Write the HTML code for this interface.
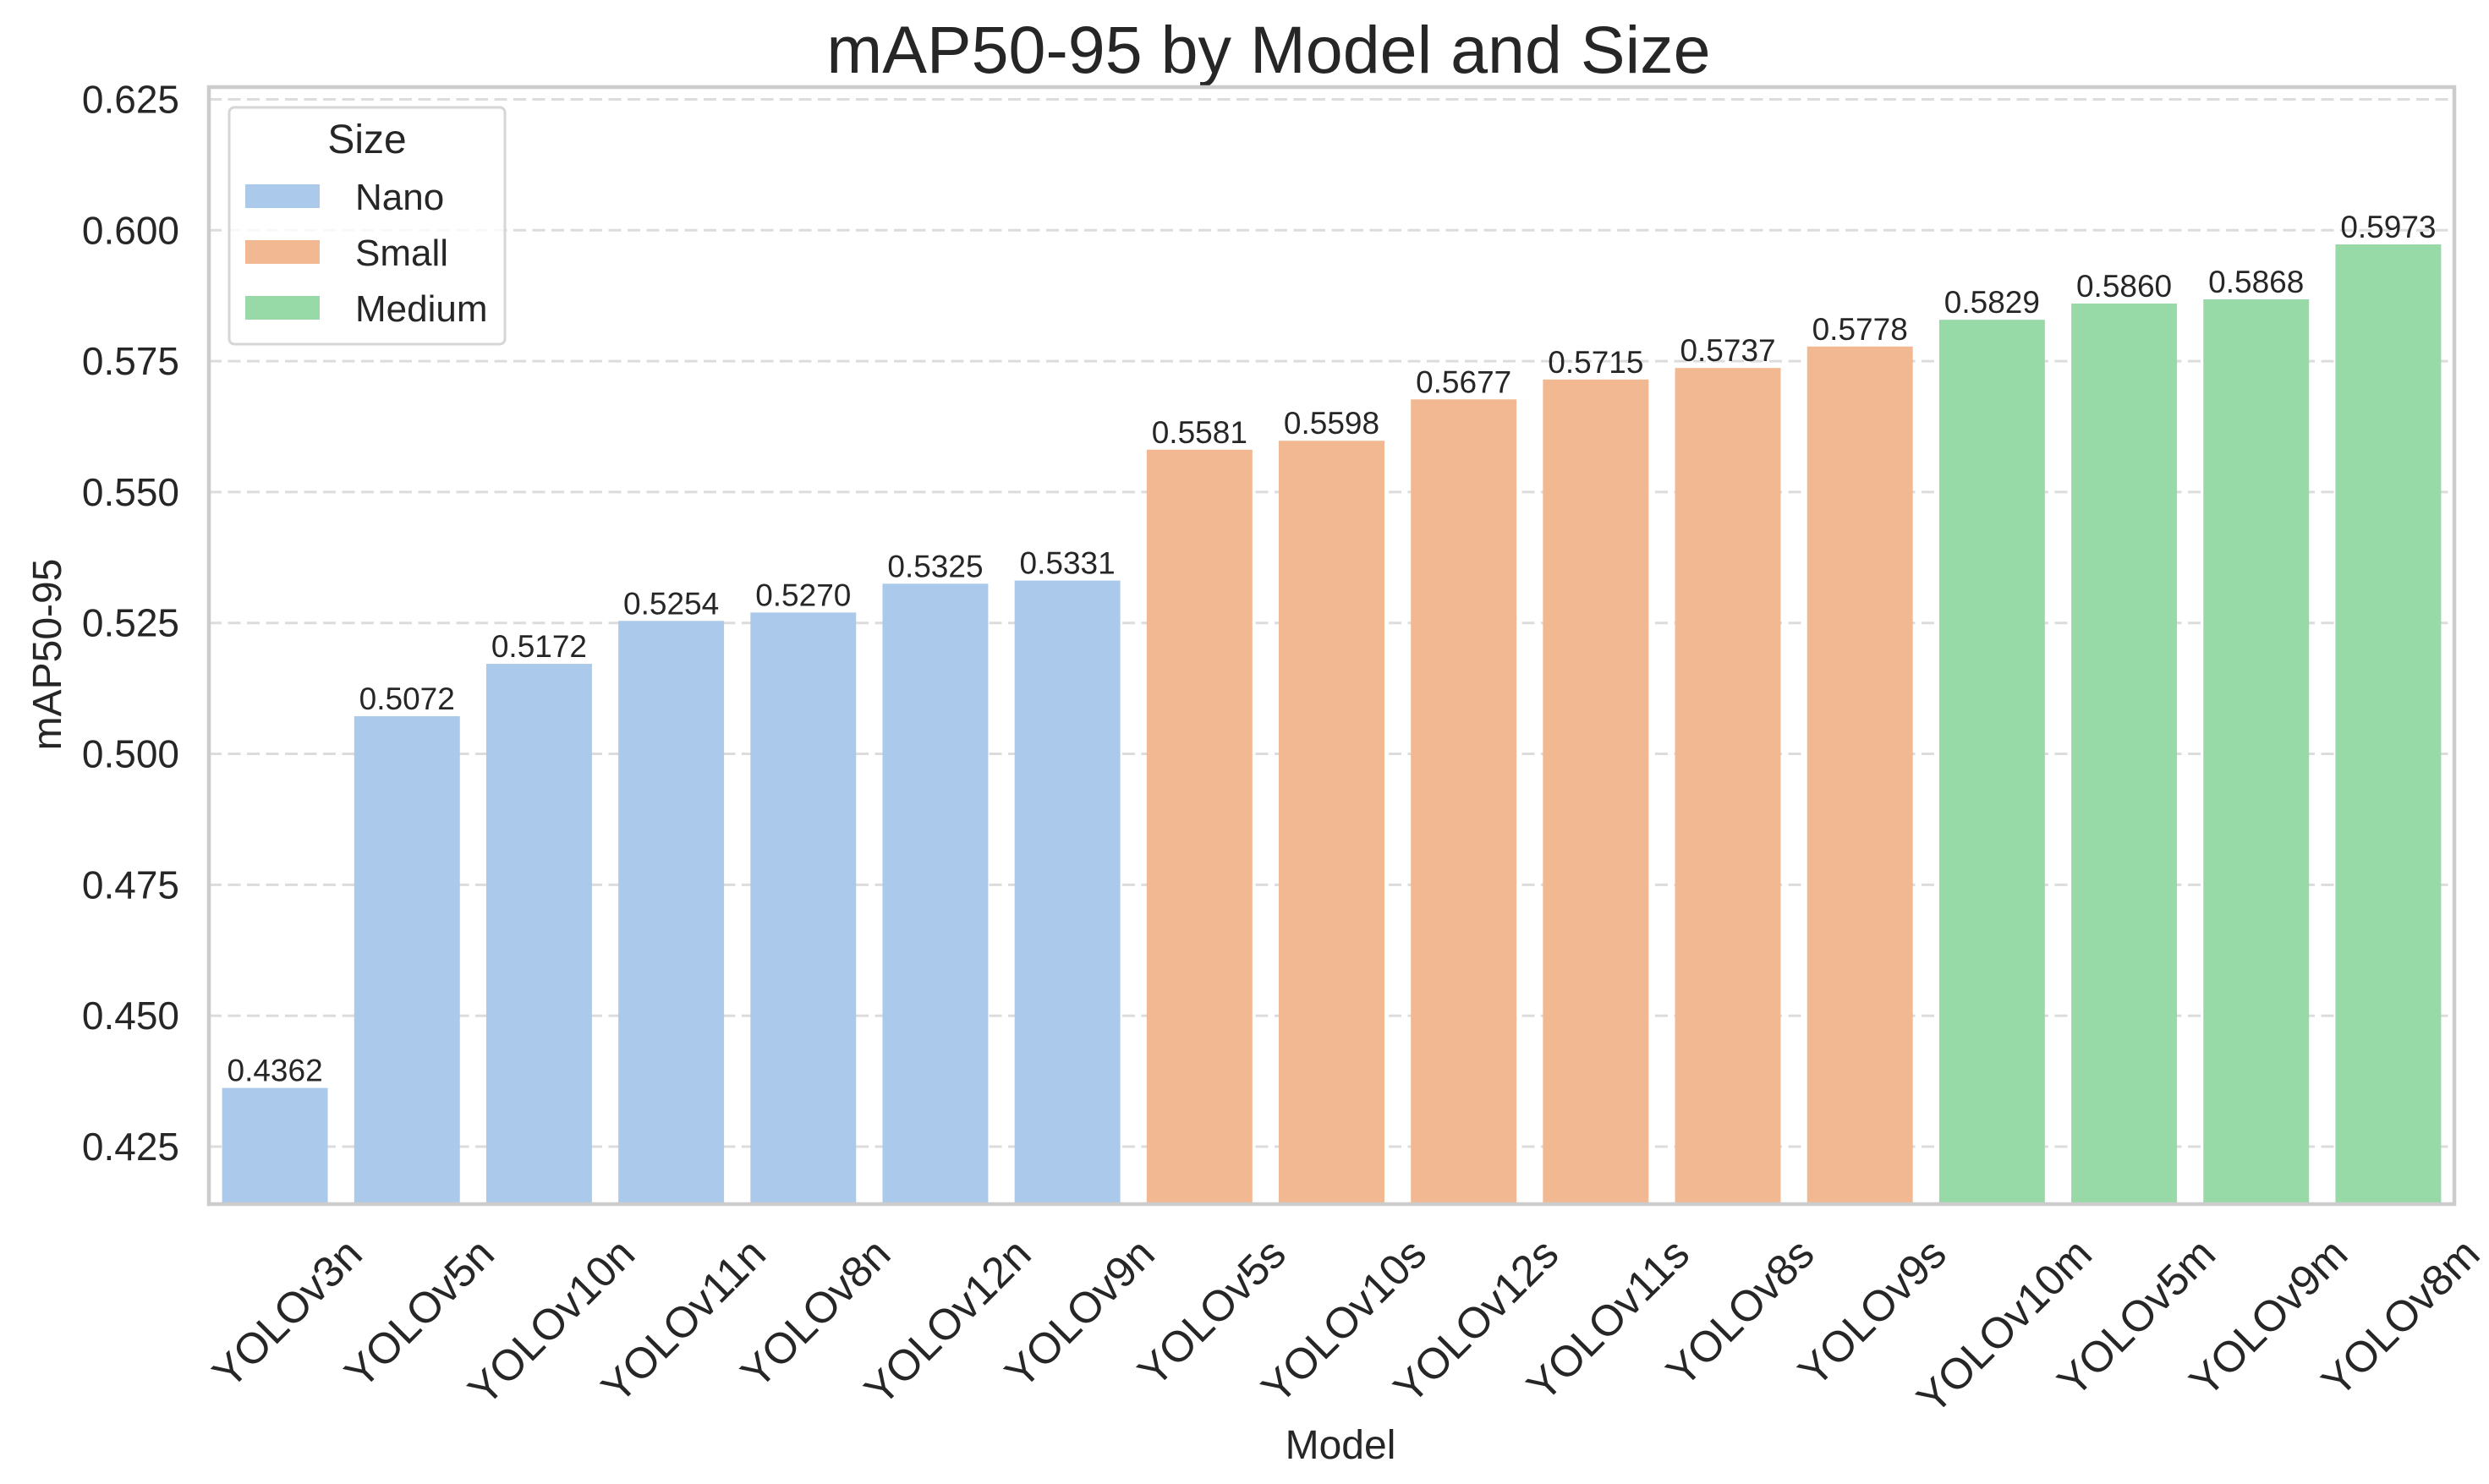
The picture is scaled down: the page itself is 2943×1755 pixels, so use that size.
<!DOCTYPE html>
<html><head><meta charset="utf-8"><style>
html,body{margin:0;padding:0;background:#fff;}
svg{display:block;font-family:"Liberation Sans",Arial,sans-serif;}
</style></head><body>
<svg id="chart" width="2943" height="1755" viewBox="0 0 2943 1755" xmlns="http://www.w3.org/2000/svg">
<rect width="2943" height="1755" fill="#fff"/>
<text x="1500" y="86" font-size="79" text-anchor="middle" fill="#262626">mAP50-95 by Model and Size</text>
<g id="grid"></g>
<g id="bars"></g>
<g id="labels"></g>
<g id="yticks"></g>
<g id="xticks"></g>
<rect x="247" y="103" width="2655" height="1321" fill="none" stroke="#cccccc" stroke-width="4.5"/>
<text transform="translate(72,774) rotate(-90)" font-size="48" text-anchor="middle" fill="#262626">mAP50-95</text>
<text x="1585" y="1725" font-size="48" text-anchor="middle" fill="#262626">Model</text>
<g>
<rect x="271" y="127" width="326" height="280" rx="6" fill="#fff" fill-opacity="0.8" stroke="#d6d6d6" stroke-width="3"/>
<text x="434" y="181" font-size="48" text-anchor="middle" fill="#262626">Size</text>
<rect x="290" y="218" width="88" height="28" fill="#abc9eb"/>
<text x="420" y="248" font-size="44" fill="#262626">Nano</text>
<rect x="290" y="284" width="88" height="28" fill="#f1b891"/>
<text x="420" y="314" font-size="44" fill="#262626">Small</text>
<rect x="290" y="350" width="88" height="28" fill="#98d9a8"/>
<text x="420" y="380" font-size="44" fill="#262626">Medium</text>
</g>
</svg>
<script>
const categories = ["YOLOv3n","YOLOv5n","YOLOv10n","YOLOv11n","YOLOv8n","YOLOv12n","YOLOv9n","YOLOv5s","YOLOv10s","YOLOv12s","YOLOv11s","YOLOv8s","YOLOv9s","YOLOv10m","YOLOv5m","YOLOv9m","YOLOv8m"];
const values = [0.4362,0.5072,0.5172,0.5254,0.5270,0.5325,0.5331,0.5581,0.5598,0.5677,0.5715,0.5737,0.5778,0.5829,0.5860,0.5868,0.5973];
const sizes = ["Nano","Nano","Nano","Nano","Nano","Nano","Nano","Small","Small","Small","Small","Small","Small","Medium","Medium","Medium","Medium"];
const yTicks = [0.425,0.450,0.475,0.500,0.525,0.550,0.575,0.600,0.625];
const yTickLabels = ["0.425","0.450","0.475","0.500","0.525","0.550","0.575","0.600","0.625"];
const sizeColors = {Nano:"#abc9eb",Small:"#f1b891",Medium:"#98d9a8"};

const NS="http://www.w3.org/2000/svg";
const L=247,R=2902,T=103,B=1424, YMIN=0.41402, YMAX=0.62734;
function y(v){return B-(v-YMIN)/(YMAX-YMIN)*(B-T);}
const slot=(R-L)/categories.length;
function x(i){return L+slot*(i+0.5);}
function mk(tag,attrs,parent){const e=document.createElementNS(NS,tag);for(const k in attrs)e.setAttribute(k,attrs[k]);parent.appendChild(e);return e;}

const grid=document.getElementById('grid'), yt=document.getElementById('yticks');
yTicks.forEach((v,i)=>{
  const g=mk('line',{x1:L,x2:R,y1:y(v),y2:y(v),stroke:'#dcdcdc','stroke-width':3,'stroke-dasharray':'15 7.5'},grid);
  
  
  const t=mk('text',{x:212,y:y(v)+16,'font-size':46,'text-anchor':'end',fill:'#262626'},yt);
  t.textContent=yTickLabels[i];
  
  
});
const bars=document.getElementById('bars'), labs=document.getElementById('labels'), xt=document.getElementById('xticks');
const bw=slot*0.8;
categories.forEach((c,i)=>{
  const top=y(values[i]);
  const r=mk('rect',{x:x(i)-bw/2,y:top,width:bw,height:B-top,fill:sizeColors[sizes[i]]},bars);
  
  
  const t=mk('text',{x:x(i),y:top-8,'font-size':37,'text-anchor':'middle',fill:'#262626'},labs);
  t.textContent=values[i].toFixed(4);
  
  
  const xl=mk('text',{'font-size':51,'text-anchor':'middle',fill:'#262626'},xt);
  xl.textContent=c;
  
  
  const w=xl.getComputedTextLength();
  const h=38;
  const bh=(w+h)*Math.SQRT1_2;
  xl.setAttribute('transform','translate('+(x(i)+14)+','+(1460+bh/2)+') rotate(-45) translate(0,18)');
});
</script>
</body></html>
